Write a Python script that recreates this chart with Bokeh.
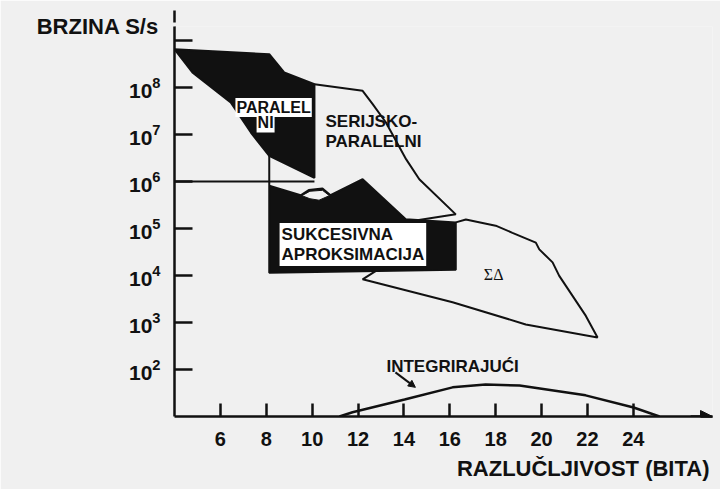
from bokeh.plotting import figure
from bokeh.models import Range1d, FixedTicker, Label, Arrow, NormalHead, Title
from bokeh.embed import file_html
from bokeh.resources import INLINE

# ---------------- data ----------------
x_ticks = [6, 8, 10, 12, 14, 16, 18, 20, 22, 24]
y_ticks = [1e2, 1e3, 1e4, 1e5, 1e6, 1e7, 1e8, 1e9]

# PARALELNI region (filled)
par_x = [4.0, 8.13, 8.78, 10.1, 10.1, 8.13, 7.33, 6.45, 4.78]
par_y = [6.5e8, 5.1e8, 2.1e8, 1.17e8, 1.2e6, 3.5e6, 1.1e7, 4.8e7, 2.1e8]

# horizontal 10^6 boundary and connector to the SAR region
lim_x = [4.0, 10.1]
lim_y = [1e6, 1e6]
con_x = [8.13, 8.13]
con_y = [3.5e6, 8.1e5]

# SUKCESIVNA APROKSIMACIJA region (filled)
sar_x = [8.13, 9.5, 9.85, 10.45, 10.8, 12.2, 14.08, 16.26, 16.26, 8.13]
sar_y = [8.1e5, 5.1e5, 6.6e5, 7.1e5, 5.1e5, 1.12e6, 1.58e5, 1.35e5, 1.32e4, 1.15e4]
hole_x = [9.55, 9.9, 10.45, 10.75, 10.3, 9.9]
hole_y = [5.0e5, 6.2e5, 6.5e5, 5.0e5, 4.0e5, 4.3e5]

# SERIJSKO-PARALELNI boundary (outline)
ser_x = [10.1, 12.2, 12.63, 13.21, 14.1, 14.67, 16.26, 14.37]
ser_y = [1.17e8, 8.5e7, 4.47e7, 1.82e7, 2.95e6, 1.12e6, 2.0e5, 1.45e5]

# Sigma-Delta boundary (outline)
sd_x = [16.26, 16.7, 18.0, 18.73, 19.75, 19.9, 20.48, 20.77, 21.93, 22.44,
        19.31, 16.12, 12.2, 12.78]
sd_y = [1.35e5, 1.55e5, 1.15e5, 8.1e4, 5.0e4, 3.6e4, 1.9e4, 9.8e3, 1.38e3, 480,
        910, 2.7e3, 8.3e3, 1.26e4]

# INTEGRIRAJUCI curve
int_x = [11.19, 11.76, 14.03, 16.12, 17.56, 19.04, 21.92, 24.01, 25.14]
int_y = [10.0, 12.3, 23.0, 41.7, 47.9, 45.7, 28.2, 15.5, 10.0]

# ---------------- figure ----------------
FONT = "Liberation Sans"
INK = "#111111"
BG = "#f0f0f0"
Y_TOP = 10 ** 9.298     # frame top (axis label sits here)
Y_ARROW = 10 ** 9.638   # tip of the y-axis arrow

p = figure(width=720, height=489,
           x_range=Range1d(4, 27.45), y_range=Range1d(10, Y_TOP),
           y_axis_type="log", output_backend="svg", toolbar_location=None,
           min_border_left=174, min_border_right=8, min_border_top=26,
           min_border_bottom=73)
p.background_fill_color = BG
p.border_fill_color = BG
p.outline_line_color = None
p.xgrid.visible = False
p.ygrid.visible = False

for ax in (p.xaxis[0], p.yaxis[0]):
    ax.axis_line_color = INK
    ax.axis_line_width = 2.5
    ax.major_tick_line_color = INK
    ax.major_tick_line_width = 2.5
    ax.minor_tick_line_color = None
    ax.major_tick_out = 0
    ax.major_label_text_font = FONT
    ax.major_label_text_font_style = "bold"
    ax.major_label_text_color = INK
    ax.axis_label_text_font = FONT
    ax.axis_label_text_font_style = "bold"
    ax.axis_label_text_font_size = "22px"
    ax.axis_label_text_color = INK

p.xaxis.ticker = FixedTicker(ticks=x_ticks)
p.xaxis.major_tick_in = 13
p.xaxis.major_label_standoff = 15
p.xaxis.major_label_text_font_size = "20px"

p.yaxis.ticker = FixedTicker(ticks=y_ticks)
p.yaxis.major_tick_in = 18
p.yaxis.major_label_standoff = 14
p.yaxis.major_label_text_font_size = "21px"
p.yaxis.major_label_overrides = {1e9: ""}
p.yaxis.axis_label = "BRZINA S/s"
p.yaxis.axis_label_orientation = "horizontal"
p.yaxis.axis_label_align = "end"
p.yaxis.axis_label_standoff = -33

p.add_layout(Title(text="RAZLUČLJIVOST (BITA)", align="right", offset=3,
                   standoff=10, text_font=FONT, text_font_style="bold",
                   text_font_size="22px", text_color=INK), "below")

# regions
p.patch(par_x, par_y, fill_color=INK, line_color=INK, line_width=2)
p.patch(sar_x, sar_y, fill_color=INK, line_color=INK, line_width=2)
p.patch(hole_x, hole_y, fill_color=BG, line_color=INK, line_width=1)
p.line(lim_x, lim_y, line_color=INK, line_width=2)
p.line(con_x, con_y, line_color=INK, line_width=2)
p.line(ser_x, ser_y, line_color=INK, line_width=2)
p.line(sd_x, sd_y, line_color=INK, line_width=2)
p.line(int_x, int_y, line_color=INK, line_width=2.5)

# axis arrows
p.add_layout(Arrow(end=NormalHead(size=12, fill_color=INK, line_color=INK),
                   x_start=4, y_start=Y_TOP, x_end=4, y_end=Y_ARROW,
                   line_color=INK, line_width=2.5))
p.add_layout(Arrow(end=NormalHead(size=12, fill_color=INK, line_color=INK),
                   x_start=26.5, y_start=10, x_end=27.45, y_end=10,
                   line_color=INK, line_width=2.5))


def lab(x, y, text, size, align="center", bg=None, pad=1, font=FONT,
        style="bold", lh=1.2):
    L = Label(x=x, y=y, text=text, text_font=font, text_font_style=style,
              text_font_size=size, text_align=align, text_baseline="middle",
              text_color=INK, text_line_height=lh)
    if bg is not None:
        L.background_fill_color = bg
        L.padding = pad
    p.add_layout(L)


lab(8.32, 3.75e7, "PARALEL", "16px", bg="white", pad=1)
lab(7.97, 1.76e7, "NI", "16px", bg="white", pad=1)
lab(10.58, 1.89e7, "SERIJSKO-", "17px", align="left")
lab(10.58, 7.08e6, "PARALELNI", "17px", align="left")
lab(8.58, 4.57e4, "SUKCESIVNA\nAPROKSIMACIJA", "17px", align="left",
    bg="white", pad=2, lh=1.05)
lab(17.91, 1.05e4, "ΣΔ", "16px", font="Liberation Serif", style="normal")
lab(16.12, 116, "INTEGRIRAJUĆI", "17px")

p.add_layout(Arrow(end=NormalHead(size=7, fill_color=INK, line_color=INK),
                   x_start=13.63, y_start=87, x_end=14.5, y_end=41.7,
                   line_color=INK, line_width=2))

open("out.html", "w").write(file_html(p, INLINE))
